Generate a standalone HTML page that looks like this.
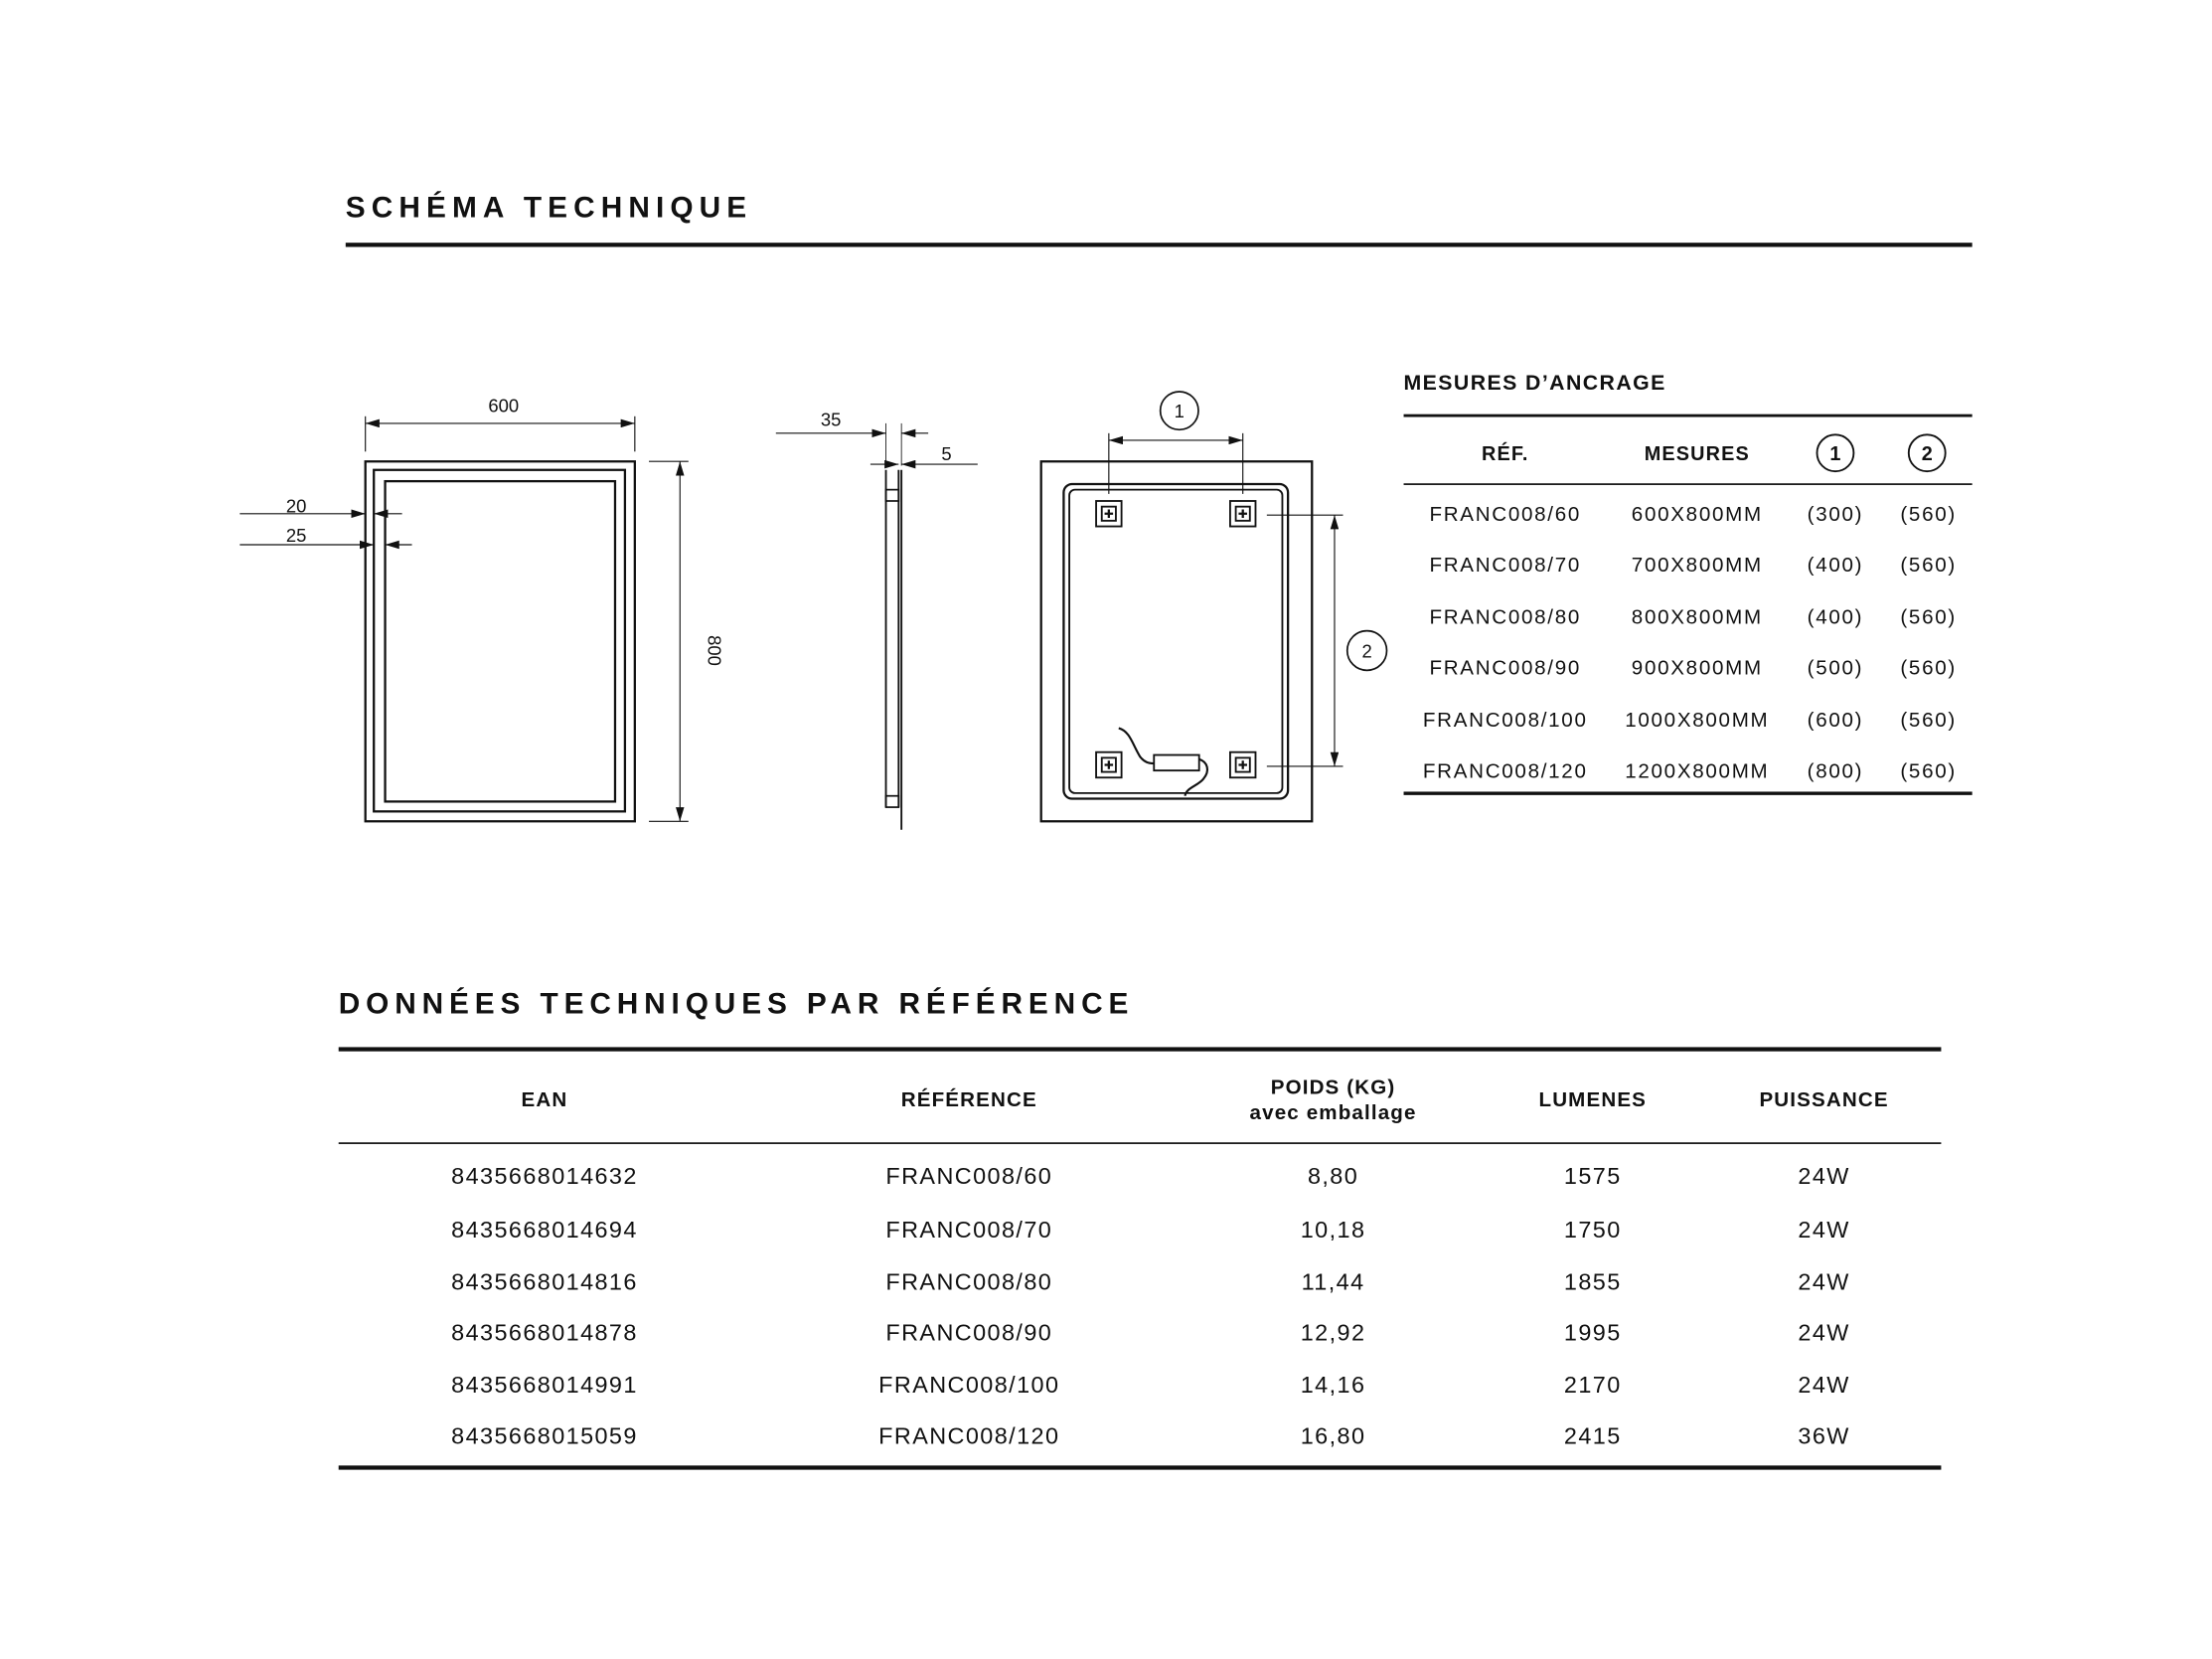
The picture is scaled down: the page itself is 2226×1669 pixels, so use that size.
<!DOCTYPE html>
<html><head><meta charset="utf-8"><style>
html,body{margin:0;padding:0;background:#fff}
svg{display:block}
text{font-family:"Liberation Sans",sans-serif;fill:#111}
.t{font-size:14.5px;text-anchor:middle;letter-spacing:1.2px}
.h{font-size:14px;font-weight:bold;text-anchor:middle;letter-spacing:0.8px}
.d{font-size:16.5px;text-anchor:middle;letter-spacing:1px}
.dh{font-size:14.5px;font-weight:bold;text-anchor:middle;letter-spacing:0.8px}
.s{font-size:13px;text-anchor:middle}
</style></head><body>
<svg width="2226" height="1669" viewBox="0 0 1568 1175.6" preserveAspectRatio="none" xmlns="http://www.w3.org/2000/svg">
<defs>
<marker id="a" viewBox="0 0 10 6" refX="10" refY="3" markerWidth="10" markerHeight="6" markerUnits="userSpaceOnUse" orient="auto-start-reverse"><path d="M0 0L10 3L0 6z" fill="#111"/></marker>
</defs>
<rect width="1568" height="1176" fill="#fff"/>
<text x="245" y="154" style="font-size:21px;font-weight:bold;letter-spacing:4.3px">SCHÉMA TECHNIQUE</text>
<rect x="245" y="172" width="1153" height="3" fill="#111"/>

<g stroke="#111" fill="none">
<rect x="259" y="327" width="191" height="255" stroke-width="1.6"/>
<rect x="265" y="333" width="178" height="242" stroke-width="1.6"/>
<rect x="273" y="341" width="163" height="227" stroke-width="1.6"/>
<line x1="259" y1="295" x2="259" y2="320" stroke-width="0.8"/>
<line x1="450" y1="295" x2="450" y2="320" stroke-width="0.8"/>
<line x1="259" y1="300" x2="450" y2="300" stroke-width="0.8" marker-start="url(#a)" marker-end="url(#a)"/>
<line x1="170" y1="364" x2="259" y2="364" stroke-width="0.8" marker-end="url(#a)"/>
<line x1="285" y1="364" x2="265" y2="364" stroke-width="0.8" marker-end="url(#a)"/>
<line x1="170" y1="386" x2="265" y2="386" stroke-width="0.8" marker-end="url(#a)"/>
<line x1="292" y1="386" x2="273" y2="386" stroke-width="0.8" marker-end="url(#a)"/>
<line x1="460" y1="327" x2="488" y2="327" stroke-width="0.8"/>
<line x1="460" y1="582" x2="488" y2="582" stroke-width="0.8"/>
<line x1="482" y1="327" x2="482" y2="582" stroke-width="0.8" marker-start="url(#a)" marker-end="url(#a)"/>
<line x1="628" y1="333" x2="628" y2="572" stroke-width="1.3"/>
<line x1="637" y1="333" x2="637" y2="572" stroke-width="1.3"/>
<line x1="639" y1="333" x2="639" y2="588" stroke-width="1.3"/>
<rect x="628" y="347" width="9" height="8" stroke-width="1.2"/>
<rect x="628" y="564" width="9" height="8" stroke-width="1.2"/>
<line x1="628" y1="300" x2="628" y2="330" stroke-width="0.6"/>
<line x1="639" y1="300" x2="639" y2="330" stroke-width="0.6"/>
<line x1="550" y1="307" x2="628" y2="307" stroke-width="0.8" marker-end="url(#a)"/>
<line x1="658" y1="307" x2="639" y2="307" stroke-width="0.8" marker-end="url(#a)"/>
<line x1="617" y1="329" x2="637" y2="329" stroke-width="0.8" marker-end="url(#a)"/>
<line x1="693" y1="329" x2="639" y2="329" stroke-width="0.8" marker-end="url(#a)"/>
<rect x="738" y="327" width="192" height="255" stroke-width="1.6"/>
<rect x="754" y="343" width="159" height="223" rx="6" stroke-width="1.6"/>
<rect x="758" y="347" width="151" height="215" rx="4" stroke-width="1.3"/>
<g stroke-width="1.3">
<rect x="777" y="355" width="18" height="18"/><rect x="781" y="359" width="10" height="10"/>
<rect x="872" y="355" width="18" height="18"/><rect x="876" y="359" width="10" height="10"/>
<rect x="777" y="533" width="18" height="18"/><rect x="781" y="537" width="10" height="10"/>
<rect x="872" y="533" width="18" height="18"/><rect x="876" y="537" width="10" height="10"/>
</g>
<g stroke-width="1.6">
<path d="M783 364h6M786 361v6M878 364h6M881 361v6M783 542h6M786 539v6M878 542h6M881 539v6"/>
</g>
<line x1="786" y1="307" x2="786" y2="350" stroke-width="0.8"/>
<line x1="881" y1="307" x2="881" y2="350" stroke-width="0.8"/>
<line x1="786" y1="312" x2="881" y2="312" stroke-width="0.8" marker-start="url(#a)" marker-end="url(#a)"/>
<circle cx="836" cy="291" r="13.5" stroke-width="1.2"/>
<line x1="898" y1="365" x2="952" y2="365" stroke-width="0.8"/>
<line x1="898" y1="543" x2="952" y2="543" stroke-width="0.8"/>
<line x1="946" y1="365" x2="946" y2="543" stroke-width="0.8" marker-start="url(#a)" marker-end="url(#a)"/>
<circle cx="969" cy="461" r="14" stroke-width="1.2"/>
<path d="M793 516c8 2 10 12 15 20c3 4 6 5 10 5" stroke-width="1.5"/>
<rect x="818" y="535" width="32" height="11" stroke-width="1.3"/>
<path d="M850 538c6 2 8 8 3 14c-4 5 -12 6 -13 12" stroke-width="1.5"/>
</g>
<text class="s" x="357" y="292">600</text>
<text class="s" x="210" y="363">20</text>
<text class="s" x="210" y="384">25</text>
<text class="s" transform="translate(502,461) rotate(90)">800</text>
<text class="s" x="589" y="302">35</text>
<text class="s" x="671" y="326">5</text>
<text class="s" x="836" y="296">1</text>
<text class="s" x="969" y="466">2</text>

<text x="995" y="276" style="font-size:15px;font-weight:bold;letter-spacing:1px">MESURES D’ANCRAGE</text>
<rect x="995" y="293.5" width="403" height="2" fill="#111"/>
<text class="h" x="1067" y="326">RÉF.</text>
<text class="h" x="1203" y="326">MESURES</text>
<circle cx="1301" cy="321" r="13" fill="none" stroke="#111" stroke-width="1.3"/>
<circle cx="1366" cy="321" r="13" fill="none" stroke="#111" stroke-width="1.3"/>
<text class="h" x="1301" y="326" style="letter-spacing:0">1</text>
<text class="h" x="1366" y="326" style="letter-spacing:0">2</text>
<rect x="995" y="342.5" width="403" height="1.2" fill="#111"/>
<text class="t" x="1067" y="369">FRANC008/60</text><text class="t" x="1203" y="369">600X800MM</text><text class="t" x="1301" y="369">(300)</text><text class="t" x="1367" y="369">(560)</text>
<text class="t" x="1067" y="405">FRANC008/70</text><text class="t" x="1203" y="405">700X800MM</text><text class="t" x="1301" y="405">(400)</text><text class="t" x="1367" y="405">(560)</text>
<text class="t" x="1067" y="442">FRANC008/80</text><text class="t" x="1203" y="442">800X800MM</text><text class="t" x="1301" y="442">(400)</text><text class="t" x="1367" y="442">(560)</text>
<text class="t" x="1067" y="478">FRANC008/90</text><text class="t" x="1203" y="478">900X800MM</text><text class="t" x="1301" y="478">(500)</text><text class="t" x="1367" y="478">(560)</text>
<text class="t" x="1067" y="515">FRANC008/100</text><text class="t" x="1203" y="515">1000X800MM</text><text class="t" x="1301" y="515">(600)</text><text class="t" x="1367" y="515">(560)</text>
<text class="t" x="1067" y="551">FRANC008/120</text><text class="t" x="1203" y="551">1200X800MM</text><text class="t" x="1301" y="551">(800)</text><text class="t" x="1367" y="551">(560)</text>
<rect x="995" y="561" width="403" height="2.4" fill="#111"/>

<text x="240" y="718" style="font-size:21px;font-weight:bold;letter-spacing:4.15px">DONNÉES TECHNIQUES PAR RÉFÉRENCE</text>
<rect x="240" y="742" width="1136" height="3" fill="#111"/>
<text class="dh" x="386" y="784">EAN</text>
<text class="dh" x="687" y="784">RÉFÉRENCE</text>
<text class="dh" x="945" y="775">POIDS (KG)</text>
<text class="dh" x="945" y="793">avec emballage</text>
<text class="dh" x="1129" y="784">LUMENES</text>
<text class="dh" x="1293" y="784">PUISSANCE</text>
<rect x="240" y="809.5" width="1136" height="1.2" fill="#111"/>
<text class="d" x="386" y="839">8435668014632</text><text class="d" x="687" y="839">FRANC008/60</text><text class="d" x="945" y="839">8,80</text><text class="d" x="1129" y="839">1575</text><text class="d" x="1293" y="839">24W</text>
<text class="d" x="386" y="877">8435668014694</text><text class="d" x="687" y="877">FRANC008/70</text><text class="d" x="945" y="877">10,18</text><text class="d" x="1129" y="877">1750</text><text class="d" x="1293" y="877">24W</text>
<text class="d" x="386" y="914">8435668014816</text><text class="d" x="687" y="914">FRANC008/80</text><text class="d" x="945" y="914">11,44</text><text class="d" x="1129" y="914">1855</text><text class="d" x="1293" y="914">24W</text>
<text class="d" x="386" y="950">8435668014878</text><text class="d" x="687" y="950">FRANC008/90</text><text class="d" x="945" y="950">12,92</text><text class="d" x="1129" y="950">1995</text><text class="d" x="1293" y="950">24W</text>
<text class="d" x="386" y="987">8435668014991</text><text class="d" x="687" y="987">FRANC008/100</text><text class="d" x="945" y="987">14,16</text><text class="d" x="1129" y="987">2170</text><text class="d" x="1293" y="987">24W</text>
<text class="d" x="386" y="1023">8435668015059</text><text class="d" x="687" y="1023">FRANC008/120</text><text class="d" x="945" y="1023">16,80</text><text class="d" x="1129" y="1023">2415</text><text class="d" x="1293" y="1023">36W</text>
<rect x="240" y="1038.5" width="1136" height="3" fill="#111"/>
</svg>
</body></html>
